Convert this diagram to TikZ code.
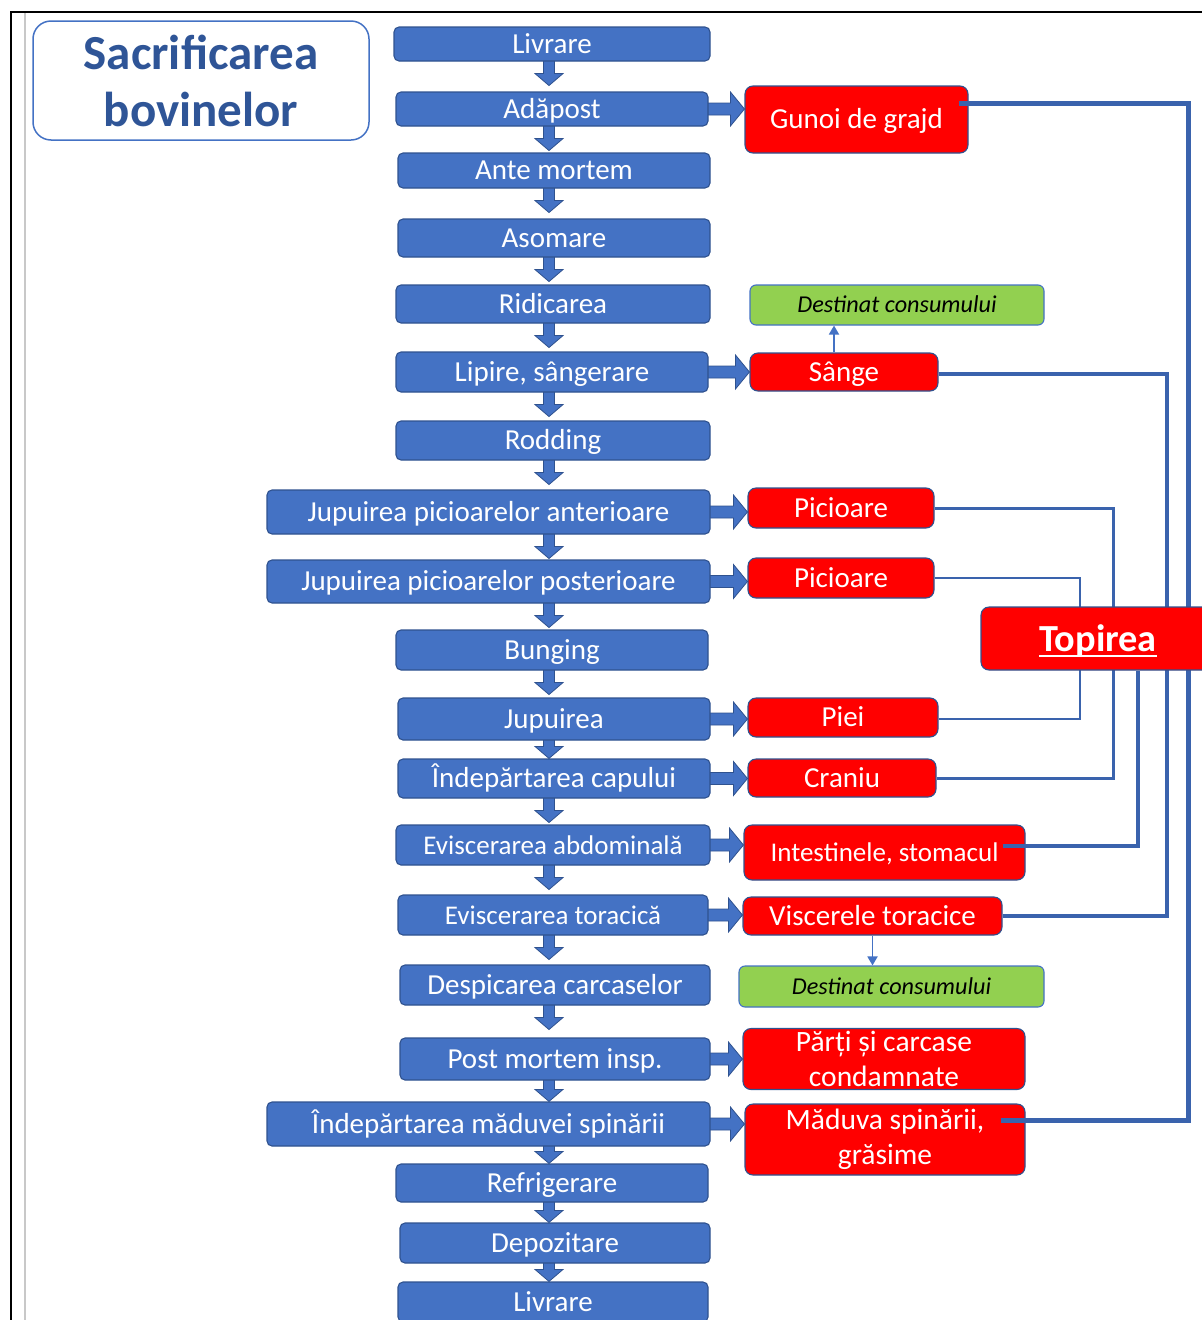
\documentclass[tikz,border=0pt]{standalone}
\usepackage{fontspec}
\setmainfont{Carlito}
\usetikzlibrary{calc,arrows.meta}
\pgfdeclarelayer{background}
\pgfdeclarelayer{foreground}
\pgfsetlayers{background,main,foreground}

\definecolor{stageblue}{HTML}{4472C4}
\definecolor{edgeblue}{HTML}{2F528F}
\definecolor{wireblue}{HTML}{3A63AD}
\definecolor{titleblue}{HTML}{2F5597}
\definecolor{wastered}{HTML}{FF0000}
\definecolor{usegreen}{HTML}{92D050}
\definecolor{framegray}{HTML}{C8C8C8}

% block arrow pointing down from one stage to the next, on a common spine
\newcommand\flowdown[2]{%
  \path[blockarrow] let \p1=(#1.south), \p2=(#2.north), \p3=(spine),
    \n1={min(\y1-\y2,24pt)} in
    (\x3-5.5pt,\y1+6pt) -- (\x3-5.5pt,\y1-\n1+12pt) -- (\x3-14pt,\y1-\n1+12pt)
    -- (\x3,\y1-\n1) -- (\x3+14pt,\y1-\n1+12pt) -- (\x3+5.5pt,\y1-\n1+12pt)
    -- (\x3+5.5pt,\y1+6pt) -- cycle;}
% block arrow pointing right from a stage to its by-product
\newcommand\flowright[2]{%
  \path[blockarrow] let \p1=(#1.east), \p2=(#2.west) in
    (\x1-4pt,\y1+6pt) -- (\x2-14pt,\y1+6pt) -- (\x2-14pt,\y1+17pt)
    -- (\x2,\y1) -- (\x2-14pt,\y1-17pt) -- (\x2-14pt,\y1-6pt)
    -- (\x1-4pt,\y1-6pt) -- cycle;}
% word with a low underline
\newcommand\ulword[1]{\setbox0=\hbox{#1}\rlap{\rule[-6pt]{\wd0}{2.4pt}}\box0}

\begin{document}
\begin{tikzpicture}[x=1pt,y=-1pt,
  box/.style={rectangle,inner sep=0pt,line width=1.1pt,draw=edgeblue},
  oneline/.style={text height=21pt,text depth=3pt},
  stage/.style={box,rounded corners=5pt,fill=stageblue,text=white,
    font=\fontsize{29}{31}\selectfont,oneline},
  smallstage/.style={stage,font=\fontsize{27}{29}\selectfont},
  waste/.style={box,rounded corners=8pt,fill=wastered,text=white,
    font=\fontsize{29}{31}\selectfont,oneline},
  wastetwo/.style={box,rounded corners=8pt,fill=wastered,text=white,
    align=center,font=\fontsize{29.5}{35}\selectfont},
  usage/.style={box,rounded corners=6pt,fill=usegreen,text=black,
    draw=stageblue,font=\fontsize{24.2}{26}\selectfont\itshape,
    text height=18pt,text depth=3pt},
  blockarrow/.style={fill=stageblue,draw=edgeblue,line width=0.8pt,line join=miter},
  wire/.style={draw=wireblue,line join=miter},
  thinarrow/.style={draw=stageblue,line width=1.8pt,-{Triangle[length=9pt,width=10pt]}},
]
\clip (0,0) rectangle (1202,1320);

% page frame
\draw[black,line width=2pt] (11,1322) -- (11,12) -- (1204,12);
\draw[framegray,line width=2pt] (25,13) -- (25,1322);

% title
\node[rectangle,rounded corners=18pt,draw=stageblue,line width=1.5pt,
  minimum width=336pt,minimum height=119pt,inner sep=0pt,align=center,
  text=titleblue,font=\fontsize{49}{57}\selectfont\bfseries]
  (title) at (201,80.5) {Sacrificarea\\bovinelor};

% main processing line
\coordinate (spine) at (549,0);
\node[stage,minimum width=316pt,minimum height=34pt] (livA)    at (552,44)    {Livrare};
\node[stage,minimum width=312pt,minimum height=34pt] (adapost) at (552,109)   {Adăpost};
\node[stage,minimum width=312pt,minimum height=35pt] (ante)    at (554,170.5) {Ante mortem};
\node[stage,minimum width=312pt,minimum height=38pt] (asom)    at (554,238)   {Asomare};
\node[stage,minimum width=314pt,minimum height=38pt] (ridic)   at (553,304)   {Ridicarea};
\node[stage,minimum width=312pt,minimum height=40pt] (lipire)  at (552,372)   {Lipire, sângerare};
\node[stage,minimum width=314pt,minimum height=39pt] (rodd)    at (553,440.5) {Rodding};
\node[stage,minimum width=443pt,minimum height=44pt] (jant)    at (488.5,512) {Jupuirea picioarelor anterioare};
\node[stage,minimum width=443pt,minimum height=43pt] (jpost)   at (488.5,581.5) {Jupuirea picioarelor posterioare};
\node[stage,minimum width=312pt,minimum height=40pt] (bung)    at (552,650)   {Bunging};
\node[stage,minimum width=312pt,minimum height=42pt] (jup)     at (554,719)   {Jupuirea};
\node[stage,minimum width=312pt,minimum height=39pt] (cap)     at (554,778.5) {Îndepărtarea capului};
\node[smallstage,minimum width=314pt,minimum height=40pt] (abd) at (553,845)   {Eviscerarea abdominală};
\node[smallstage,minimum width=310pt,minimum height=40pt] (tor) at (553,915)   {Eviscerarea toracică};
\node[stage,minimum width=310pt,minimum height=40pt] (desp)    at (555,985)   {Despicarea carcaselor};
\node[stage,minimum width=310pt,minimum height=42pt] (post)    at (555,1059)  {Post mortem insp.};
\node[stage,minimum width=443pt,minimum height=44pt] (mad)     at (488.5,1124) {Îndepărtarea măduvei spinării};
\node[stage,minimum width=312pt,minimum height=38pt] (refr)    at (552,1183)  {Refrigerare};
\node[stage,minimum width=310pt,minimum height=40pt] (depo)    at (555,1243)  {Depozitare};
\node[stage,minimum width=310pt,minimum height=40pt] (livB)    at (553,1302)  {Livrare};

% by-products
\node[waste,minimum width=223pt,minimum height=67pt] (gunoi)  at (856.5,119.5) {Gunoi de grajd};
\node[waste,minimum width=188pt,minimum height=38pt] (sange)  at (844,372)     {Sânge};
\node[waste,minimum width=186pt,minimum height=40pt] (pic1)   at (841,508)     {Picioare};
\node[waste,minimum width=186pt,minimum height=40pt] (pic2)   at (841,578)     {Picioare};
\node[waste,minimum width=190pt,minimum height=39pt] (piei)   at (843,717.5)   {Piei};
\node[waste,minimum width=188pt,minimum height=38pt] (craniu) at (842,778)     {Craniu};
\node[waste,minimum width=281pt,minimum height=55pt,font=\fontsize{27}{29}\selectfont]
  (intest) at (884.5,852.5) {Intestinele, stomacul};
\node[waste,minimum width=259pt,minimum height=38pt] (visc)   at (872.5,916)   {Viscerele toracice};
\node[wastetwo,minimum width=282pt,minimum height=61pt] (parti)  at (884,1059) {Părți și carcase\\condamnate};
\node[wastetwo,minimum width=280pt,minimum height=71pt] (maduva) at (885,1139.5) {Măduva spinării,\\grăsime};

% edible destinations
\node[usage,minimum width=294pt,minimum height=40pt] (dest1) at (897,305)     {Destinat consumului};
\node[usage,minimum width=305pt,minimum height=41pt] (dest2) at (891.5,986.5) {Destinat consumului};

% flow arrows
\begin{pgfonlayer}{background}
\foreach \a/\b in {livA/adapost,adapost/ante,ante/asom,asom/ridic,ridic/lipire,
  lipire/rodd,rodd/jant,jant/jpost,jpost/bung,bung/jup,jup/cap,cap/abd,abd/tor,
  tor/desp,desp/post,post/mad,mad/refr,refr/depo,depo/livB}
  {\flowdown{\a}{\b}}
\foreach \a/\b in {adapost/gunoi,lipire/sange,jant/pic1,jpost/pic2,jup/piei,
  cap/craniu,abd/intest,tor/visc,post/parti,mad/maduva}
  {\flowright{\a}{\b}}
\end{pgfonlayer}

\coordinate (bloodtap) at ([xshift=-10pt]sange.north);
\draw[thinarrow] (bloodtap) -- (bloodtap |- dest1.south);
\draw[thinarrow] (visc.south) -- (visc.south |- dest2.north);

% rendering lines
\coordinate (busA) at (1188,0);
\coordinate (busB) at (1167,0);
\coordinate (busC) at (1138,0);
\coordinate (busD) at (1113,0);
\coordinate (busE) at (1080,0);
\coordinate (gunoiout) at ([xshift=-10pt,yshift=16.5pt]gunoi.east);
\coordinate (maduvain) at ([xshift=-25pt,yshift=19.5pt]maduva.east);
\coordinate (sangeout) at ([yshift=-2pt]sange.east);
\coordinate (intestout) at ([xshift=-23pt,yshift=6.5pt]intest.east);
\coordinate (pieiout) at ([yshift=-1.5pt]piei.east);

\draw[wire,line width=5pt] (gunoiout) -- (gunoiout -| busA) -- (maduvain -| busA) -- (maduvain);
\draw[wire,line width=4pt] (sangeout) -- (sangeout -| busB) -- (visc.east -| busB) -- (visc.east);
\draw[wire,line width=3pt] (pic1.east) -- (pic1.east -| busD) -- (craniu.east -| busD) -- (craniu.east);
\draw[wire,line width=2pt] (pic2.east) -- (pic2.east -| busE) -- (pieiout -| busE) -- (pieiout);

\begin{pgfonlayer}{foreground}
\node[waste,minimum width=234pt,minimum height=63pt,
  font=\fontsize{38.3}{40}\selectfont\bfseries,text height=28pt,text depth=3pt]
  (topirea) at (1098,638.5) {\ulword{Topirea}};
\end{pgfonlayer}
\draw[wire,line width=4pt] (intestout) -- (intestout -| busC) -- (topirea.south -| busC);
\end{tikzpicture}
\end{document}
